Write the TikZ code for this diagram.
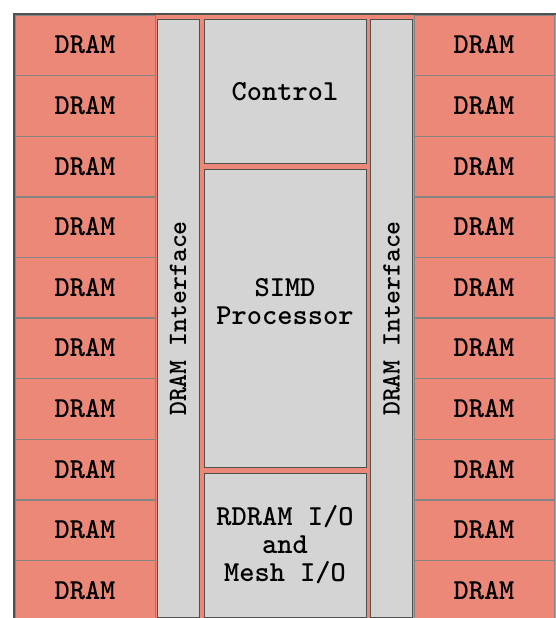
\documentclass[tikz,border=0pt]{standalone}
\usepackage{fontspec}
\usepackage{tikz}
\usetikzlibrary{positioning}

\definecolor{dramred}{RGB}{236,136,120}
\definecolor{blockgray}{RGB}{212,212,212}
\definecolor{edgegray}{RGB}{80,80,80}

\tikzset{
  chipfont/.style={font=\ttfamily\bfseries\fontsize{29}{28}\selectfont},
  dram/.style={draw=edgegray!70, fill=dramred, minimum width=140pt,
    minimum height=60.2pt, inner sep=0pt, chipfont},
  block/.style={draw=edgegray, line width=1pt, fill=blockgray, inner sep=0pt,
    chipfont, align=center},
  iface/.style={block, minimum width=42pt, minimum height=597pt},
}

\begin{document}
\begin{tikzpicture}[x=1pt, y=-1pt]
  \useasboundingbox (0,0) rectangle (556,618);
  % background of the chip
  \fill[dramred] (14,14) rectangle (556,618);

  % DRAM columns, ten rows each side
  \node[dram] (L1) at (85,45.1) {DRAM};
  \node[dram] (R1) at (484,45.1) {DRAM};
  \foreach \i [evaluate=\i as \j using int(\i-1)] in {2,...,10} {
    \node[dram] (L\i) [below=0pt of L\j] {DRAM};
    \node[dram] (R\i) [below=0pt of R\j] {DRAM};
  }

  % interfaces
  \node[iface] (IL) at (178,318.5) {};
  \node[iface] (IR) at (391.5,318.5) {};
  \node[rotate=90, chipfont, font=\ttfamily\bfseries\fontsize{26.5}{28}\selectfont]
    (ILtext) at (IL.center) {DRAM Interface};
  \node[rotate=90, chipfont, font=\ttfamily\bfseries\fontsize{26.5}{28}\selectfont]
    (IRtext) at (IR.center) {DRAM Interface};

  % center column
  \node[block, minimum width=162pt, minimum height=143pt] (ctrl) at (285,91.5) {Control};
  \node[block, minimum width=162pt, minimum height=298pt] (simd) at (285,318) {};
  \node[chipfont, align=center] (simdtext) at (285,302) {SIMD\\Processor};
  \node[block, minimum width=162pt, minimum height=144pt] (rdram) at (285,545)
    {RDRAM I/O\\and\\Mesh I/O};

  % frame
  \draw[edgegray, line width=2pt] (14,618) -- (14,14) -- (556,14);
\end{tikzpicture}
\end{document}
